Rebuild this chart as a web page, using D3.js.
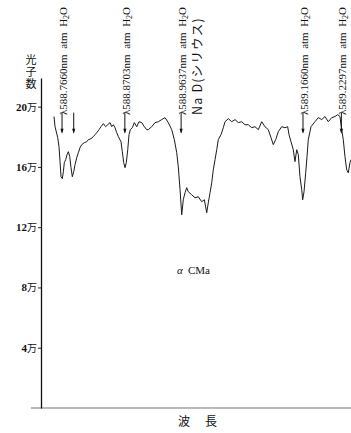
<!DOCTYPE html>
<html>
<head>
<meta charset="utf-8">
<title>α CMa Na D</title>
<script src="https://cdn.jsdelivr.net/npm/d3@7"></script>
<style>
  body { margin: 0; background: #fff; }
  svg { display: block; background: #fff; }
  .tick line { stroke: #222; }
  .tick text { font-family: "Liberation Serif", "Noto Sans CJK JP", serif; font-size: 11px; fill: #111; }
  .lbl { font-family: "Liberation Serif", serif; font-size: 11px; fill: #111; }
  .jp { font-family: "Noto Sans CJK JP", sans-serif; fill: #111; }
</style>
</head>
<body>
<svg id="chart" width="351" height="433"></svg>
<script>
// spectrum: wavelength (nm) and photon count (万)
var wave = [588.7527, 588.7544, 588.7589, 588.7610, 588.7627, 588.7643, 588.7665, 588.7682, 588.7698, 588.7721,
  588.7743, 588.7765, 588.7788, 588.7809, 588.7831, 588.7854, 588.7876, 588.7904, 588.7931, 588.7959,
  588.7987, 588.8030, 588.8070, 588.8097, 588.8141, 588.8180, 588.8208, 588.8236, 588.8274, 588.8307,
  588.8346, 588.8385, 588.8419, 588.8457, 588.8485, 588.8512, 588.8540, 588.8568, 588.8595, 588.8639,
  588.8661, 588.8684, 588.8706, 588.8727, 588.8751, 588.8772, 588.8794, 588.8827, 588.8860, 588.8900,
  588.8938, 588.8983, 588.9026, 588.9066, 588.9092, 588.9149, 588.9204, 588.9258, 588.9315, 588.9370,
  588.9424, 588.9481, 588.9524, 588.9564, 588.9590, 588.9619, 588.9647, 588.9673, 588.9702, 588.9730,
  588.9756, 588.9813, 588.9868, 588.9922, 588.9979, 589.0022, 589.0062, 589.0088, 589.0117, 589.0145,
  589.0171, 589.0200, 589.0228, 589.0254, 589.0299, 589.0337, 589.0366, 589.0420, 589.0477, 589.0532,
  589.0586, 589.0643, 589.0697, 589.0752, 589.0809, 589.0863, 589.0918, 589.0975, 589.1029, 589.1084,
  589.1129, 589.1167, 589.1207, 589.1250, 589.1307, 589.1361, 589.1406, 589.1428, 589.1461, 589.1499,
  589.1527, 589.1556, 589.1582, 589.1610, 589.1639, 589.1655, 589.1677, 589.1705, 589.1727, 589.1748,
  589.1793, 589.1859, 589.1914, 589.1971, 589.2025, 589.2080, 589.2137, 589.2191, 589.2236, 589.2274,
  589.2303, 589.2329, 589.2357, 589.2385, 589.2412, 589.2440, 589.2457];
var counts = [19.34, 18.67, 17.94, 17.34, 16.35, 15.35, 15.22, 15.68, 16.28, 16.48,
  16.81, 17.01, 16.68, 15.95, 15.35, 15.68, 16.15, 16.61, 16.94, 17.28,
  17.48, 17.61, 17.67, 17.81, 17.87, 18.01, 18.14, 18.27, 18.47, 18.67,
  18.87, 18.67, 18.80, 18.94, 18.67, 18.80, 18.60, 18.27, 18.01, 17.67,
  17.01, 16.28, 15.95, 16.28, 17.14, 18.14, 18.47, 18.60, 18.94, 18.67,
  19.00, 18.94, 18.67, 18.47, 18.47, 18.67, 18.94, 19.00, 19.14, 19.27,
  18.94, 18.47, 17.81, 16.94, 16.01, 14.49, 12.82, 13.82, 14.29, 14.62,
  14.35, 14.15, 13.95, 14.02, 13.69, 13.82, 12.96, 13.62, 14.29, 14.95,
  15.81, 16.48, 17.14, 17.81, 18.14, 18.60, 19.00, 19.20, 19.00, 19.14,
  18.94, 19.00, 18.80, 18.80, 18.60, 18.67, 18.47, 19.00, 18.67, 18.47,
  17.94, 17.48, 17.81, 18.34, 18.67, 18.60, 18.67, 18.14, 17.67, 17.14,
  16.35, 17.14, 16.81, 15.35, 14.49, 13.82, 14.35, 15.61, 16.68, 17.81,
  18.67, 19.00, 19.27, 19.14, 19.34, 19.00, 19.27, 19.34, 19.47, 19.34,
  18.47, 17.81, 16.68, 15.81, 15.61, 16.28, 16.48];

var countTicks = [4, 8, 12, 16, 20];
var unit = "万";
var lineWaves = [588.7660, 588.8703, 588.9637, 589.1660, 589.2297];
var arrowWaves = [588.7660, 588.7854, 588.8703, 588.9637, 589.1660, 589.2297];
var naNote = "Na D(シリウス)";
var yTitle = "光子数";
var xTitle = "波\u3000長";
var starName = "CMa";

var svg = d3.select("#chart");
var x = d3.scaleLinear().domain([588.7311, 589.2457]).range([41, 351]);
var y = d3.scaleLinear().domain([0, 21.9]).range([408, 78]);

// axes
svg.append("line")
  .attr("x1", 31).attr("x2", 351)
  .attr("y1", y(0)).attr("y2", y(0))
  .attr("stroke", "#777").attr("stroke-width", 1.2);

var yAxis = svg.append("g")
  .attr("transform", "translate(" + x.range()[0] + ",0)")
  .call(d3.axisLeft(y).tickValues(countTicks).tickSize(3).tickPadding(1).tickSizeOuter(0)
    .tickFormat(function(d){ return d + unit; }));
yAxis.select(".domain").attr("stroke", "#111").attr("stroke-width", 1.3);
yAxis.selectAll(".tick text").each(function(d){
  var t = d3.select(this).text("");
  t.append("tspan").attr("font-weight", "bold").text(d);
  t.append("tspan").attr("font-family", "Noto Sans CJK JP").attr("font-size", 10).text(unit);
});

// vertical y title
svg.append("text").attr("class", "jp")
  .attr("x", 31).attr("y", 54)
  .attr("font-size", 11)
  .style("writing-mode", "vertical-rl")
  .style("letter-spacing", "1px")
  .text(yTitle);

// spectrum
var pts = wave.map(function(w, i){ return [w, counts[i]]; });
svg.append("path")
  .datum(pts)
  .attr("fill", "none")
  .attr("stroke", "#1a1a1a")
  .attr("stroke-width", 1)
  .attr("stroke-linejoin", "round")
  .attr("d", d3.line().x(function(d){ return x(d[0]); }).y(function(d){ return y(d[1]); }));

// line markers
var arrows = svg.selectAll(".arrow").data(arrowWaves).enter().append("g").attr("class", "arrow");
arrows.append("line")
  .attr("x1", function(d){ return x(d); }).attr("x2", function(d){ return x(d); })
  .attr("y1", y(19.6)).attr("y2", y(18.3))
  .attr("stroke", "#111").attr("stroke-width", 1);
arrows.append("path")
  .attr("d", function(d){ var cx = x(d), ty = y(18.2); return "M" + (cx - 1.6) + "," + (ty - 5) + "L" + (cx + 1.6) + "," + (ty - 5) + "L" + cx + "," + ty + "Z"; })
  .attr("fill", "#111");

var labels = svg.selectAll(".lbl").data(lineWaves).enter().append("g")
  .attr("transform", function(d){ return "translate(" + (x(d) + 5) + ",115) rotate(-90)"; });
var lt = labels.append("text").attr("class", "lbl");
lt.append("tspan").text(function(d){ return "λ" + d.toFixed(4) + "nm\u00a0\u00a0atm\u00a0\u00a0H"; });
lt.append("tspan").attr("font-size", 8).attr("dy", 2).text("2");
lt.append("tspan").attr("dy", -2).text("O");
labels.filter(function(d){ return d === 588.9637; })
  .append("text").attr("class", "jp")
  .attr("y", 16).attr("font-size", 12.5)
  .attr("letter-spacing", 1.2)
  .text(naNote);

// star name and x title
var star = svg.append("text").attr("class", "lbl").attr("font-size", 12)
  .attr("x", x(588.9637) - 4).attr("y", 274);
star.append("tspan").attr("font-style", "italic").text("α");
star.append("tspan").attr("dx", 5).text(starName);

svg.append("text").attr("class", "jp")
  .attr("x", x(588.9637) - 3).attr("y", 426)
  .attr("font-size", 12).attr("letter-spacing", 1.5)
  .text(xTitle);
</script>
</body>
</html>
